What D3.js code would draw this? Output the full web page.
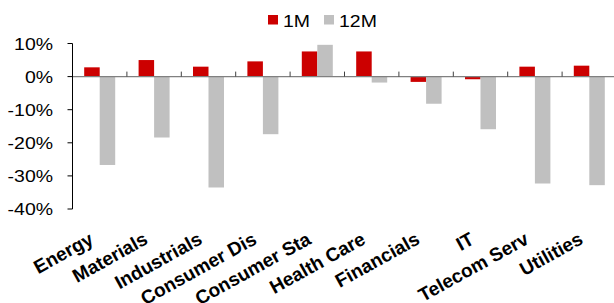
<!DOCTYPE html>
<html>
<head>
<meta charset="utf-8">
<script src="https://cdn.jsdelivr.net/npm/d3@7"></script>
<style>
  body { margin: 0; background: #fff; }
  text { font-family: "Liberation Sans", Arial, sans-serif; fill: #000; }
</style>
</head>
<body>
<div id="chart"></div>
<script>
const categories = ['Energy', 'Materials', 'Industrials', 'Consumer Dis', 'Consumer Sta',
  'Health Care', 'Financials', 'IT', 'Telecom Serv', 'Utilities'];
const series = ['1M', '12M'];
const values1M = [2.8, 5.0, 3.0, 4.6, 7.6, 7.6, -1.6, -0.8, 3.0, 3.3];
const values12M = [-26.7, -18.4, -33.5, -17.4, 9.6, -1.8, -8.2, -15.9, -32.3, -32.8];
const yTicks = [10, 0, -10, -20, -30, -40];
const colors = ['#cc0000', '#c0c0c0'];

const width = 614, height = 303;
const margin = { left: 72.5, right: 616.5, top: 43.5, bottom: 209 };
const sx = 1.18; // horizontal stretch of the original text

const data = categories.map((c, i) => ({ cat: c, vals: [values1M[i], values12M[i]] }));

const svg = d3.select('#chart').append('svg')
  .attr('width', width)
  .attr('height', height);

const x0 = d3.scaleBand().domain(categories).range([margin.left, margin.right])
  .paddingInner(0.43).paddingOuter(0.215);
const xStep = d3.scaleBand().domain(categories).range([margin.left, margin.right]);
const x1 = d3.scaleBand().domain(series).range([0, x0.bandwidth()]);
const y = d3.scaleLinear().domain([-40, 10]).range([margin.bottom, margin.top]);

// bars
const group = svg.selectAll('.grp')
  .data(data)
  .enter().append('g')
  .attr('class', 'grp')
  .attr('transform', d => 'translate(' + x0(d.cat) + ',0)');

group.selectAll('rect')
  .data(d => d.vals.map((v, i) => ({ s: series[i], v: v, i: i })))
  .enter().append('rect')
  .attr('x', d => x1(d.s))
  .attr('width', x1.bandwidth())
  .attr('y', d => y(Math.max(0, d.v)))
  .attr('height', d => Math.abs(y(d.v) - y(0)))
  .style('fill', d => colors[d.i]);

// zero line with category ticks
svg.append('line')
  .attr('x1', margin.left).attr('x2', width)
  .attr('y1', y(0)).attr('y2', y(0))
  .style('stroke', '#808080').style('stroke-width', 1.3);

svg.selectAll('.xtick')
  .data(categories.slice(1))
  .enter().append('line')
  .attr('class', 'xtick')
  .attr('x1', d => xStep(d)).attr('x2', d => xStep(d))
  .attr('y1', y(0) - 5).attr('y2', y(0))
  .style('stroke', '#404040').style('stroke-width', 1);

// y axis
svg.append('line')
  .attr('x1', margin.left).attr('x2', margin.left)
  .attr('y1', margin.top).attr('y2', margin.bottom)
  .style('stroke', '#000').style('stroke-width', 1);

svg.selectAll('.ytick')
  .data(yTicks)
  .enter().append('line')
  .attr('class', 'ytick')
  .attr('x1', margin.left - 5).attr('x2', margin.left)
  .attr('y1', d => y(d)).attr('y2', d => y(d))
  .style('stroke', '#000').style('stroke-width', 1);

svg.selectAll('.ylabel')
  .data(yTicks)
  .enter().append('text')
  .attr('class', 'ylabel')
  .attr('transform', d => 'translate(' + (margin.left - 19.5) + ',' + (y(d) + 6) + ') scale(' + sx + ',1)')
  .attr('text-anchor', 'end')
  .style('font-size', '16.5px')
  .text(d => d + '%');

// category labels
svg.selectAll('.xlabel')
  .data(categories)
  .enter().append('text')
  .attr('class', 'xlabel')
  .attr('transform', d => 'translate(' + (x0(d) + x0.bandwidth() / 2 - 5) + ',243) rotate(-29)')
  .attr('text-anchor', 'end')
  .style('font-size', '19px')
  .style('font-weight', 'bold')
  .text(d => d);

// legend
const legend = svg.selectAll('.legend')
  .data(series)
  .enter().append('g')
  .attr('class', 'legend')
  .attr('transform', (d, i) => 'translate(' + (268 + i * 56) + ',0)');

legend.append('rect')
  .attr('x', 0).attr('y', 15)
  .attr('width', 10).attr('height', 9.5)
  .style('fill', (d, i) => colors[i]);

legend.append('text')
  .attr('transform', 'translate(15,26.5) scale(' + sx + ',1)')
  .style('font-size', '16.5px')
  .text(d => d);
</script>
</body>
</html>
